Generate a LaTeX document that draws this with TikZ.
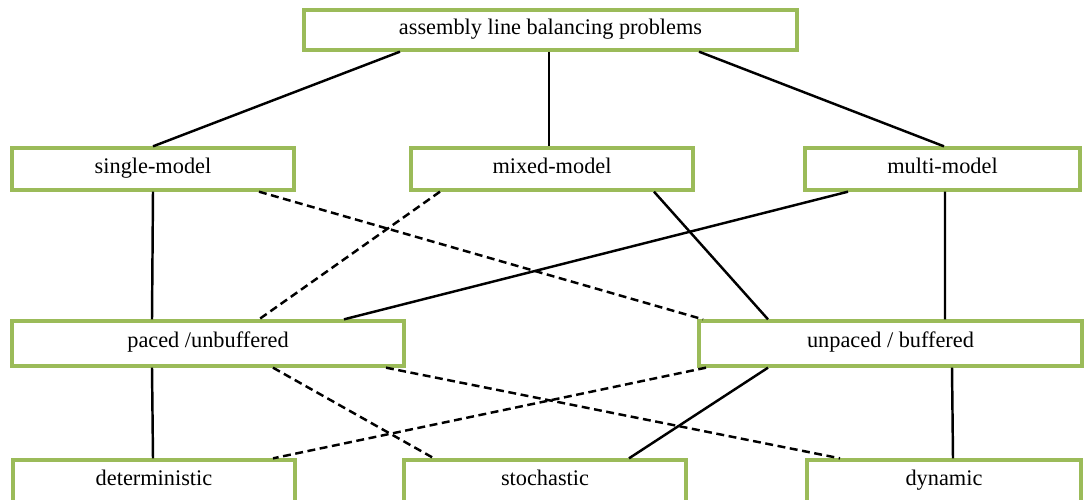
\documentclass[tikz,border=0pt]{standalone}
\usepackage{fontspec}
\setmainfont{Liberation Serif}
\usepackage{xcolor}
\usetikzlibrary{backgrounds}
\definecolor{boxgreen}{RGB}{155,187,89}

\begin{document}
\begin{tikzpicture}[background rectangle/.style={fill=white}, show background rectangle, inner frame sep=0pt,
    box/.style={draw=boxgreen, line width=1.9pt, fill=white, inner sep=0pt, minimum height=0.84cm,
        text height=0.7em, text depth=0.22em, font=\fontsize{12.7}{15}\selectfont},
    link/.style={draw=black, line width=1.4pt},
    maybe/.style={link, dash pattern=on 4.5pt off 2.6pt}]
    \useasboundingbox (0,0) rectangle (21.68,-9.98);

    % root of the classification
    \node[box, minimum width=9.86cm, minimum height=0.80cm] (problems) at (11.01,-0.60) {assembly line balancing problems};

    % number of models
    \node[box, minimum width=5.64cm] (single) at (3.06,-3.38) {single-model};
    \node[box, minimum width=5.64cm] (mixed) at (11.04,-3.38) {mixed-model};
    \node[box, minimum width=5.50cm] (multi) at (18.85,-3.38) {multi-model};

    % line control
    \node[box, minimum width=7.84cm, minimum height=0.90cm] (paced) at (4.16,-6.87) {paced /unbuffered};
    \node[box, minimum width=7.66cm, minimum height=0.90cm] (unpaced) at (17.81,-6.87) {unpaced / buffered};

    % task times
    \node[box, minimum width=5.64cm] (determ) at (3.08,-9.62) {deterministic};
    \node[box, minimum width=5.64cm] (stoch) at (10.90,-9.62) {stochastic};
    \node[box, minimum width=5.48cm] (dynamic) at (18.88,-9.62) {dynamic};

    % root to models
    \draw[link] ([xshift=-3.01cm]problems.south) -- (single.north);
    \draw[link] ([xshift=-0.03cm]problems.south) -- ([xshift=-0.06cm]mixed.north);
    \draw[link] ([xshift=2.97cm]problems.south) -- ([xshift=0.03cm]multi.north);

    % models to line control
    \draw[link] (single.south) -- ([xshift=-1.12cm]paced.north);
    \draw[maybe] ([xshift=2.12cm]single.south) -- ([xshift=-3.75cm]unpaced.north);
    \draw[maybe] ([xshift=-2.24cm]mixed.south) -- ([xshift=1.02cm]paced.north);
    \draw[link] ([xshift=2.04cm]mixed.south) -- ([xshift=-2.45cm]unpaced.north);
    \draw[link] ([xshift=-1.89cm]multi.south) -- ([xshift=2.72cm]paced.north);
    \draw[link] ([xshift=0.05cm]multi.south) -- ([xshift=1.09cm]unpaced.north);

    % line control to task times
    \draw[link] ([xshift=-1.12cm]paced.south) -- ([xshift=-0.02cm]determ.north);
    \draw[maybe] ([xshift=1.30cm]paced.south) -- ([xshift=-2.22cm]stoch.north);
    \draw[maybe] ([xshift=3.56cm]paced.south) -- ([xshift=-2.08cm]dynamic.north);
    \draw[maybe] ([xshift=-3.69cm]unpaced.south) -- ([xshift=2.38cm]determ.north);
    \draw[link] ([xshift=-2.45cm]unpaced.south) -- ([xshift=1.68cm]stoch.north);
    \draw[link] ([xshift=1.23cm]unpaced.south) -- ([xshift=0.18cm]dynamic.north);
\end{tikzpicture}
\end{document}
